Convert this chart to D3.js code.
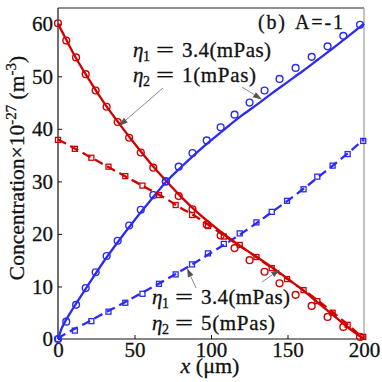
<!DOCTYPE html>
<html>
<head>
<meta charset="utf-8">
<script src="https://d3js.org/d3.v7.min.js"></script>
<style>
  body { margin: 0; background: #fff; }
  svg text { font-family: "Liberation Serif", "Times New Roman", Times, serif; fill: #111; stroke: #111; stroke-width: 0.3px; }
</style>
</head>
<body>
<svg id="chart" width="382" height="382"></svg>
<script>
// curves
const lineX     = [0, 2.5, 5, 10, 20, 30, 40, 50, 60, 70, 80, 90, 100, 110, 120, 130, 140, 150, 160, 170, 180, 190, 200];
const redSolid  = [60, 58.6, 57.2, 54.4, 49.5, 45.0, 41.0, 37.2, 33.6, 30.3, 27.2, 24.4, 21.9, 19.6, 17.5, 15.6, 13.6, 11.5, 9.3, 6.9, 4.5, 2.1, 0];
const blueSolid = [0, 2.1, 3.5, 5.9, 10.4, 14.8, 18.8, 22.6, 26.2, 29.7, 32.6, 35.3, 37.8, 40.2, 42.5, 44.6, 46.8, 48.9, 51.0, 53.2, 55.4, 57.7, 60];
const redDash   = [38, 37.6, 37.2, 36.4, 34.8, 33.2, 31.6, 30.0, 28.4, 26.8, 25.0, 23.3, 21.4, 19.4, 17.5, 15.5, 13.5, 11.4, 9.4, 7.3, 5.0, 2.6, 0];
const blueDash  = [0, 0.6, 1.0, 1.8, 3.3, 4.9, 6.4, 8.0, 9.6, 11.2, 12.9, 14.6, 16.4, 18.2, 20.1, 22.1, 24.2, 26.3, 28.5, 30.8, 33.1, 35.5, 38];

// simulation markers (eta2 = 1 -> circles, eta2 = 5 -> squares)
const circX    = [0, 5.4, 11.8, 18.1, 24.6, 31.8, 39, 46.5, 54.1, 62.3, 70.5, 78.9, 87.9, 97.2, 106.3, 115.4, 125.2, 135, 144.8, 155.3, 165.8, 176.2, 186.5, 197.4];
const redCirc  = [60.1, 56.8, 53.6, 50.4, 47.3, 44.2, 41.3, 38.3, 35.5, 32.6, 30.0, 27.2, 24.7, 21.8, 19.7, 17.3, 15.0, 12.8, 10.6, 8.4, 6.3, 4.2, 2.3, 0.4];
const blueCirc = [0, 3.3, 6.5, 9.7, 12.7, 15.8, 18.7, 21.6, 24.6, 27.4, 30.0, 32.8, 35.4, 37.8, 40.3, 42.7, 45.0, 47.3, 49.5, 51.6, 53.7, 55.7, 57.7, 59.8];
const sqX      = [0, 11, 21.8, 33, 44, 55.2, 66, 76.9, 87.6, 98, 108.4, 118.8, 129.7, 139.7, 149.7, 160.5, 169.5, 179.5, 189.3, 199.5];
const redSq    = [37.9, 36.2, 34.5, 32.8, 31.0, 29.2, 27.4, 25.5, 23.6, 21.5, 19.5, 17.9, 15.6, 13.5, 11.4, 9.3, 7.2, 5.0, 2.7, 0.4];
const blueSq   = [0, 1.6, 3.4, 5.2, 6.9, 8.6, 10.5, 12.3, 14.2, 16.3, 18.1, 20.1, 22.2, 24.2, 26.3, 28.5, 30.9, 33.0, 35.2, 37.7];

const xTicks = [0, 50, 100, 150, 200];
const yTicks = [0, 10, 20, 30, 40, 50, 60];

const RED = "#d20000", BLUE = "#2b2bf7";

const svg = d3.select("#chart");
const mLeft = 58, mRight = 364, mTop = 8, mBottom = 339;

const x = d3.scaleLinear().domain([0, 200]).range([mLeft, mRight]);
const y = d3.scaleLinear().domain([0, 63]).range([mBottom, mTop]);

// axes (ticks pointing inward)
const gx = svg.append("g").attr("transform", `translate(0,${mBottom})`)
  .call(d3.axisBottom(x).tickValues(xTicks).tickSizeInner(-4).tickSizeOuter(0).tickPadding(3));
const gy = svg.append("g").attr("transform", `translate(${mLeft},0)`)
  .call(d3.axisLeft(y).tickValues(yTicks).tickSizeInner(-4).tickSizeOuter(0).tickPadding(5));
[gx, gy].forEach(g => {
  g.select(".domain").remove();
  g.selectAll("line").attr("stroke", "#111");
  g.selectAll("text").style("font-size", "21px").attr("fill", "#111");
});

// frame
svg.append("line").attr("x1", mLeft).attr("x2", mRight).attr("y1", mTop).attr("y2", mTop).attr("stroke", "#222").attr("stroke-width", 1.2);
svg.append("line").attr("x1", mRight).attr("x2", mRight).attr("y1", mTop).attr("y2", mBottom).attr("stroke", "#999").attr("stroke-width", 1.2);
svg.append("line").attr("x1", mLeft).attr("x2", mRight).attr("y1", mBottom).attr("y2", mBottom).attr("stroke", "#111").attr("stroke-width", 1.2);
svg.append("line").attr("x1", mLeft).attr("x2", mLeft).attr("y1", mTop).attr("y2", mBottom).attr("stroke", "#111").attr("stroke-width", 1.2);

// curves
const line = d3.line().x(d => x(d[0])).y(d => y(d[1])).curve(d3.curveMonotoneX);
const curves = [
  { v: redDash, c: RED, dash: "9,5" },
  { v: blueDash, c: BLUE, dash: "9,5" },
  { v: redSolid, c: RED, dash: null },
  { v: blueSolid, c: BLUE, dash: null }
];
curves.forEach(s => {
  svg.append("path")
    .datum(lineX.map((d, i) => [d, s.v[i]]))
    .attr("d", line)
    .attr("fill", "none")
    .attr("stroke", s.c)
    .attr("stroke-width", 2.3)
    .attr("stroke-dasharray", s.dash);
});

// markers
[[redCirc, RED], [blueCirc, BLUE]].forEach(([vals, c]) => {
  svg.append("g").selectAll("circle")
    .data(circX.map((d, i) => [d, vals[i]]))
    .join("circle")
      .attr("cx", d => x(d[0]))
      .attr("cy", d => y(d[1]))
      .attr("r", 3.4)
      .attr("fill", "none")
      .attr("stroke", c)
      .attr("stroke-width", 1.4);
});
[[redSq, RED], [blueSq, BLUE]].forEach(([vals, c]) => {
  svg.append("g").selectAll("rect")
    .data(sqX.map((d, i) => [d, vals[i]]))
    .join("rect")
      .attr("x", d => x(d[0]) - 2.5)
      .attr("y", d => y(d[1]) - 2.5)
      .attr("width", 5)
      .attr("height", 5)
      .attr("fill", "none")
      .attr("stroke", c)
      .attr("stroke-width", 1.3);
});

// arrows
function arrow(x1, y1, x2, y2) {
  const a = Math.atan2(y2 - y1, x2 - x1), L = 9, W = 3;
  const bx = x2 - L * Math.cos(a), by = y2 - L * Math.sin(a);
  svg.append("line").attr("x1", x1).attr("y1", y1).attr("x2", bx).attr("y2", by)
    .attr("stroke", "#8a8a8a").attr("stroke-width", 1);
  svg.append("path")
    .attr("d", `M${x2},${y2}L${bx + W * Math.sin(a)},${by - W * Math.cos(a)}L${bx - W * Math.sin(a)},${by + W * Math.cos(a)}Z`)
    .attr("fill", "#555");
}
arrow(163, 88, 119, 126);
arrow(242, 87, 262, 99.5);
arrow(196, 288, 187, 268);
arrow(262, 282, 280, 269.5);

// annotations
function eta(x0, base, sub, rest, restLen) {
  const g = svg.append("g");
  g.append("text").attr("x", x0).attr("y", base).style("font-size", "21px").style("font-style", "italic").text("η");
  g.append("text").attr("x", x0 + 10).attr("y", base + 4).style("font-size", "14px").text(sub);
  g.append("text").attr("x", x0 + 23).attr("y", base).style("font-size", "21px")
    .attr("textLength", 18).attr("lengthAdjust", "spacingAndGlyphs").text("=");
  g.append("text").attr("x", x0 + 49).attr("y", base).style("font-size", "21px")
    .attr("textLength", restLen).text(rest);
}
eta(133, 57, "1", "3.4(mPas)", 89);
eta(133, 81.5, "2", "1(mPas)", 74);
eta(152, 304, "1", "3.4(mPas)", 89);
eta(152, 330, "2", "5(mPas)", 74);

svg.append("text").attr("x", 258).attr("y", 28.5).style("font-size", "20px")
  .attr("textLength", 27).text("(b)");
svg.append("text").attr("x", 295).attr("y", 28.5).style("font-size", "20px")
  .attr("textLength", 48).text("A=-1");

// axis titles
svg.append("text").attr("x", 210).attr("y", 373).attr("text-anchor", "middle").style("font-size", "22px")
  .html('<tspan font-style="italic">x</tspan> (μm)');

const yl = svg.append("text").attr("transform", "translate(24,168) rotate(-90)")
  .attr("text-anchor", "middle").style("font-size", "21.5px");
yl.append("tspan").text("Concentration×10");
yl.append("tspan").attr("dy", -8).style("font-size", "15px").text("-27");
yl.append("tspan").attr("dy", 8).text(" (m");
yl.append("tspan").attr("dy", -8).style("font-size", "15px").text("-3");
yl.append("tspan").attr("dy", 8).text(")");
</script>
</body>
</html>
